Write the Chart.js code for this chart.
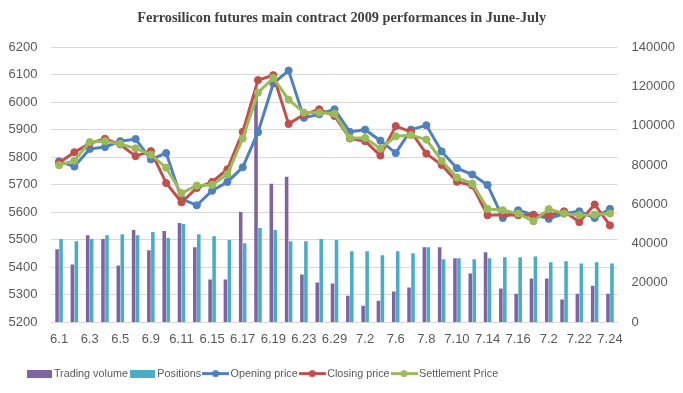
<!DOCTYPE html>
<html>
<head>
<meta charset="utf-8">
<script src="https://cdn.jsdelivr.net/npm/chart.js@4/dist/chart.umd.min.js"></script>
<style>
  body { margin: 0; background: #fff; }
  canvas { display: block; }
</style>
</head>
<body>
<canvas id="chart" width="683" height="393"></canvas>
<script>
// Datas (dias de pregão)
const datas = ['6.1', '6.2', '6.3', '6.4', '6.5', '6.8', '6.9', '6.10', '6.11', '6.12',
    '6.15', '6.16', '6.17', '6.18', '6.19', '6.22', '6.23', '6.26', '6.29', '7.1',
    '7.2', '7.3', '7.6', '7.7', '7.8', '7.9', '7.10', '7.13', '7.14', '7.15',
    '7.16', '7.17', '7.2', '7.21', '7.22', '7.23', '7.24'];

// Volume e posições (eixo da direita)
const volume = [37100, 29400, 44300, 42300, 28900, 46900, 36600, 46400, 50500, 38200,
    21700, 21700, 56100, 116000, 70500, 74100, 24300, 20200, 19700, 13500,
    8400, 10900, 15600, 17600, 38200, 38200, 32500, 24800, 35600, 17100,
    14500, 22200, 22200, 11500, 14500, 18600, 14500];
const posicoes = [42300, 41200, 42300, 44300, 44800, 44300, 45900, 42800, 50000, 44800,
    43800, 41800, 40200, 47900, 46900, 41200, 41200, 42300, 41800, 36100,
    36100, 34100, 36100, 35100, 38200, 32000, 32500, 32000, 32500, 33000,
    33000, 33500, 30500, 31000, 29900, 30500, 29900];

// Preços (eixo da esquerda)
const abertura = [5785, 5766, 5830, 5837, 5858, 5866, 5792, 5815, 5648, 5625,
    5678, 5710, 5763, 5891, 6068, 6115, 5943, 5956, 5974, 5892,
    5900, 5860, 5815, 5900, 5916, 5821, 5760, 5737, 5699, 5579,
    5607, 5591, 5576, 5595, 5603, 5579, 5612];
const fechamento = [5780, 5818, 5850, 5867, 5846, 5804, 5822, 5706, 5636, 5688,
    5710, 5756, 5892, 6080, 6098, 5921, 5955, 5974, 5950, 5868,
    5858, 5806, 5913, 5892, 5813, 5772, 5711, 5697, 5589, 5591,
    5589, 5589, 5589, 5603, 5564, 5628, 5552];
const ajuste = [5771, 5787, 5855, 5858, 5848, 5832, 5809, 5762, 5669, 5697,
    5699, 5738, 5868, 6035, 6088, 6009, 5962, 5962, 5958, 5870,
    5870, 5831, 5876, 5880, 5864, 5787, 5726, 5704, 5612, 5607,
    5595, 5567, 5611, 5595, 5589, 5591, 5595];

const roxo = '#8064A2', ciano = '#4BACC6', azul = '#4F81BD', vermelho = '#C0504D', verde = '#9BBB59';

// Ícones da legenda
function iconeBarra(cor) {
    const c = document.createElement('canvas');
    c.width = 25; c.height = 8;
    const g = c.getContext('2d');
    g.fillStyle = cor;
    g.fillRect(0, 0, 25, 8);
    return c;
}
function iconeLinha(cor) {
    const c = document.createElement('canvas');
    c.width = 27; c.height = 9;
    const g = c.getContext('2d');
    g.strokeStyle = cor;
    g.lineWidth = 3;
    g.beginPath(); g.moveTo(0, 4.5); g.lineTo(27, 4.5); g.stroke();
    g.fillStyle = cor;
    g.beginPath(); g.arc(13.5, 4.5, 3.5, 0, Math.PI * 2); g.fill();
    return c;
}

function linha(label, data, cor, ordem) {
    return {
        type: 'line', label: label, data: data, yAxisID: 'y', order: ordem,
        borderColor: cor, backgroundColor: cor, borderWidth: 3,
        pointRadius: 3.6, pointBackgroundColor: cor, pointBorderColor: cor, pointBorderWidth: 1,
        tension: 0, icone: iconeLinha(cor)
    };
}

const dados = {
    labels: datas,
    datasets: [
        { type: 'bar', label: 'Trading volume', data: volume, yAxisID: 'y1', order: 4,
          backgroundColor: roxo, barPercentage: 0.9, categoryPercentage: 0.52, icone: iconeBarra(roxo) },
        { type: 'bar', label: 'Positions', data: posicoes, yAxisID: 'y1', order: 5,
          backgroundColor: ciano, barPercentage: 0.9, categoryPercentage: 0.52, icone: iconeBarra(ciano) },
        linha('Opening price', abertura, azul, 3),
        linha('Closing price', fechamento, vermelho, 2),
        linha('Settlement Price', ajuste, verde, 1)
    ]
};

const fonteEixo = { family: "'Liberation Sans', Arial, sans-serif", size: 13 };

// Empurra a legenda um pouco para a direita (como no original)
const deslocaLegenda = {
    id: 'deslocaLegenda',
    afterLayout(chart) {
        chart.legend.left += 16;
        chart.legend.right += 16;
    }
};

// O Chart.js reserva o padding dos ticks duas vezes; tira uma
const tiraPadding = escala => { escala.width -= escala.options.ticks.padding; };

const config = {
    type: 'bar',
    data: dados,
    plugins: [deslocaLegenda],
    options: {
        responsive: false,
        animation: false,
        layout: { padding: { left: 8.5, right: 8, top: 6, bottom: 4 } },
        plugins: {
            title: {
                display: true,
                text: 'Ferrosilicon futures main contract 2009 performances in June-July',
                color: '#404040',
                font: { family: "'Liberation Serif', 'Times New Roman', serif", size: 14.3, weight: 'bold' },
                padding: { top: 4, bottom: 20 }
            },
            legend: {
                position: 'bottom',
                align: 'start',
                labels: {
                    color: '#595959',
                    font: { family: "'Liberation Sans', Arial, sans-serif", size: 10.8 },
                    usePointStyle: true,
                    pointStyleWidth: 19,
                    padding: 5,
                    generateLabels: function(chart) {
                        return chart.data.datasets.map((ds, i) => ({
                            text: ds.label,
                            pointStyle: ds.icone,
                            fontColor: '#595959',
                            lineWidth: 0,
                            hidden: false,
                            datasetIndex: i
                        }));
                    }
                }
            },
            tooltip: { enabled: false }
        },
        scales: {
            x: {
                grid: { display: false, drawTicks: false },
                border: { display: false },
                ticks: {
                    color: '#595959', font: fonteEixo, padding: 9,
                    autoSkip: false, maxRotation: 0,
                    callback: function(valor, i) {
                        return i % 2 === 0 ? this.getLabelForValue(valor) : '';
                    }
                },
                afterFit: function(escala) {
                    escala.height += 7.4;
                    escala.paddingLeft = 0;
                    escala.paddingRight = 0;
                }
            },
            y: {
                position: 'left',
                min: 5200, max: 6200,
                grid: { color: '#D9D9D9', drawTicks: false },
                border: { display: false },
                ticks: { stepSize: 100, color: '#595959', font: fonteEixo, padding: 14, callback: v => String(v) },
                afterFit: tiraPadding
            },
            y1: {
                position: 'right',
                min: 0, max: 140000,
                grid: { display: false, drawTicks: false },
                border: { display: false },
                ticks: {
                    stepSize: 20000, color: '#595959', font: fonteEixo, padding: 14,
                    callback: v => String(v)
                },
                afterFit: tiraPadding
            }
        }
    }
};

const ctx = document.getElementById('chart').getContext('2d');
new Chart(ctx, config);
</script>
</body>
</html>
